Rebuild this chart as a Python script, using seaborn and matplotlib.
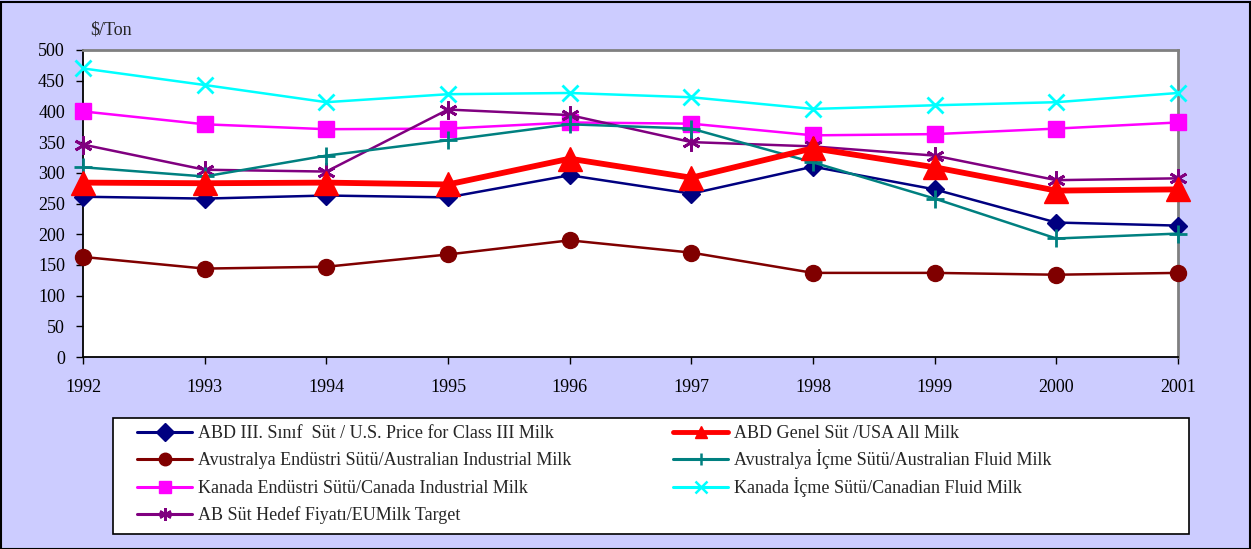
import matplotlib
matplotlib.use("Agg")
import matplotlib.pyplot as plt
import seaborn as sns
import pandas as pd
from matplotlib.patches import Rectangle
from matplotlib.lines import Line2D

years = [1992, 1993, 1994, 1995, 1996, 1997, 1998, 1999, 2000, 2001]

abd_class3 = [261, 258, 263, 260, 296, 266, 310, 273, 219, 214]
abd_genel = [284, 283, 284, 281, 323, 292, 340, 309, 271, 273]
avus_endustri = [163, 144, 147, 167, 190, 170, 137, 137, 134, 137]
avus_icme = [309, 294, 328, 353, 379, 372, 317, 258, 193, 201]
kanada_endustri = [400, 379, 371, 372, 382, 380, 361, 363, 372, 382]
kanada_icme = [470, 443, 415, 428, 430, 423, 404, 410, 415, 430]
ab_hedef = [346, 305, 302, 403, 394, 350, 343, 328, 288, 291]

labels = [
    "ABD III. Sınıf  Süt / U.S. Price for Class III Milk",
    "ABD Genel Süt /USA All Milk",
    "Avustralya Endüstri Sütü/Australian Industrial Milk",
    "Avustralya İçme Sütü/Australian Fluid Milk",
    "Kanada Endüstri Sütü/Canada Industrial Milk",
    "Kanada İçme Sütü/Canadian Fluid Milk",
    "AB Süt Hedef Fiyatı/EUMilk Target",
]
y_ticks = [0, 50, 100, 150, 200, 250, 300, 350, 400, 450, 500]

sns.set_style("white")
plt.rcParams['font.family'] = ['Liberation Serif', 'DejaVu Serif']

W, H = 1251, 549
FS = 13
fig = plt.figure(figsize=(W / 100, H / 100), dpi=100)
fig.patch.set_facecolor("#CCCCFF")
fig.patches.append(Rectangle((0.5 / W, 0.5 / H), (W - 2) / W, (H - 2) / H, transform=fig.transFigure,
                             fill=False, edgecolor="black", linewidth=1.5, zorder=0))

ax = fig.add_axes([83 / W, 1 - 357 / H, (1178 - 83) / W, (357 - 50) / H])
ax.set_facecolor("white")

# (values, colour, marker, markersize, linewidth, label, legend column, legend row)
series = [
    (abd_class3, "#000080", "D", 9, 1.8, labels[0], 0, 0),
    (abd_genel, "#FF0000", "^", 17, 4.2, labels[1], 1, 0),
    (avus_endustri, "#800000", "o", 11.5, 1.8, labels[2], 0, 1),
    (avus_icme, "#008080", "+", 13, 1.8, labels[3], 1, 1),
    (kanada_endustri, "#FF00FF", "s", 11, 1.8, labels[4], 0, 2),
    (kanada_icme, "#00FFFF", "x", 11, 1.8, labels[5], 1, 2),
    (ab_hedef, "#800080", (6, 2, 0), 13, 1.8, labels[6], 0, 3),
]
thin_markers = ("+", "x", (6, 2, 0))
draw_order = [0, 2, 4, 6, 3, 5, 1]
for i in draw_order:
    vals, col, mk, ms, lw, lab, _, _ = series[i]
    df = pd.DataFrame({"year": years, "value": vals})
    sns.lineplot(data=df, x="year", y="value", ax=ax, color=col, marker=mk, markersize=ms,
                 linewidth=lw, markeredgecolor=col,
                 markeredgewidth=2 if mk in thin_markers else 1,
                 label=lab, legend=False, clip_on=False, zorder=4 if i == 1 else 3)

ax.set_xlim(1992, 2001)
ax.set_ylim(0, 500)
ax.set_xticks(years)
ax.set_xticklabels([str(y) for y in years])
ax.set_yticks(y_ticks)
ax.set_xlabel("")
ax.set_ylabel("")
ax.tick_params(axis="both", labelsize=FS, colors="black", direction="out", length=5, width=1)
ax.tick_params(axis="x", pad=11)
ax.tick_params(axis="y", pad=8)
ax.tick_params(left=True, bottom=True)
for s in ("left", "bottom"):
    ax.spines[s].set_color("black")
    ax.spines[s].set_linewidth(1.3)
for s in ("top", "right"):
    ax.spines[s].set_color("#808080")
    ax.spines[s].set_linewidth(2)
ax.grid(False)

fig.text(90 / W, 1 - 30 / H, "$/Ton", fontsize=FS, ha="left", va="center")

# legend frame
fig.patches.append(Rectangle((113 / W, 1 - 534 / H), (1189 - 113) / W, (534 - 418) / H,
                             transform=fig.transFigure, facecolor="white", edgecolor="black",
                             linewidth=1.2, zorder=1))
col_x = [137, 673]
row_bottom = [442, 469, 497, 524]
for vals, col, mk, ms, lw, lab, c, r in series:
    h = Line2D([], [], color=col, marker=mk, markersize=9,
               linewidth=2.2 if lw < 3 else 3.5,
               markeredgecolor=col, markeredgewidth=1.8 if mk in thin_markers else 1)
    fig.legend([h], [lab], loc="lower left", bbox_to_anchor=(col_x[c] / W, 1 - row_bottom[r] / H),
               frameon=False, fontsize=FS, handlelength=3.05, handletextpad=0.33,
               borderaxespad=0, borderpad=0)

fig.savefig("out.png", dpi=100, facecolor=fig.get_facecolor())
